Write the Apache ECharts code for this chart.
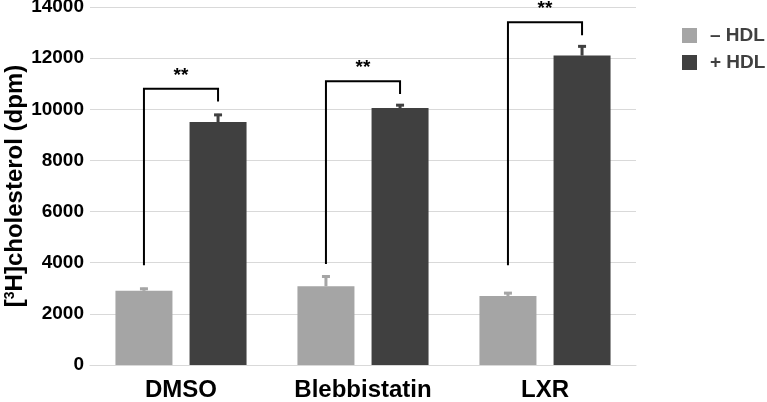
<!DOCTYPE html>
<html>
<head>
<meta charset="utf-8">
<script src="https://cdn.jsdelivr.net/npm/echarts@6/dist/echarts.min.js"></script>
<style>html,body{margin:0;padding:0;background:#fff}#c{width:767px;height:402px}</style>
</head>
<body>
<div id="c"></div>
<script>
const categories = ['DMSO', 'Blebbistatin', 'LXR'];
const seriesNames = ['\u2013 HDL', '+ HDL'];
const minusHDL = [2900, 3080, 2700];
const plusHDL = [9500, 10050, 12100];
const minusErrTop = [3020, 3500, 2850];
const plusErrTop = [9820, 10200, 12500];
const bracketLeft = [3900, 3950, 3900];
const bracketTop = [10800, 11100, 13400];
const bracketRight = [10300, 10600, 12900];
const sigLabels = ['**', '**', '**'];
const yTicks = { min: 0, max: 14000, interval: 2000 };

const FONT = 'Liberation Sans';
const COL_MINUS = '#a5a5a5';
const COL_PLUS = '#404040';
const BAR_W = 57;
const GAP = 0.3;
const OFF = (BAR_W + BAR_W * GAP) / 2;

const errData = [];
categories.forEach((c, i) => {
  errData.push([i, minusHDL[i], minusErrTop[i], -1]);
  errData.push([i, plusHDL[i], plusErrTop[i], 1]);
});
const bracketData = categories.map((c, i) => [i, bracketLeft[i], bracketTop[i], bracketRight[i]]);

const chart = echarts.init(document.getElementById('c'));
chart.setOption({
  animation: false,
  textStyle: { fontFamily: FONT },
  grid: { left: 90, right: 131, top: 7, bottom: 37, containLabel: false, outerBoundsMode: 'none' },
  legend: {
    orient: 'vertical', left: 677, top: 21, itemWidth: 15, itemHeight: 15, itemGap: 8,
    icon: 'rect',
    data: seriesNames,
    textStyle: { fontFamily: FONT, fontWeight: 'bold', fontSize: 19, color: '#404040', padding: [0, 0, 0, 8] }
  },
  xAxis: {
    type: 'category', data: categories,
    axisLine: { lineStyle: { color: '#d9d9d9', width: 1 } },
    axisTick: { show: false },
    axisLabel: { fontFamily: FONT, fontWeight: 'bold', fontSize: 24, color: '#000', margin: 13 }
  },
  yAxis: {
    type: 'value', min: yTicks.min, max: yTicks.max, interval: yTicks.interval,
    axisLine: { show: false }, axisTick: { show: false },
    splitLine: { lineStyle: { color: '#d9d9d9', width: 1 } },
    axisLabel: { fontFamily: FONT, fontWeight: 'bold', fontSize: 19, color: '#000', margin: 6, formatter: v => String(v) },
    name: '{b|[}{s|3}{b|H]cholesterol (dpm)}',
    nameLocation: 'middle', nameGap: 63, nameRotate: 90, nameMoveOverlap: false,
    nameTextStyle: {
      rich: {
        b: { fontFamily: FONT, fontWeight: 'bold', fontSize: 24, color: '#000' },
        s: { fontFamily: FONT, fontWeight: 'bold', fontSize: 14, color: '#000', verticalAlign: 'top', padding: [0, 0, 9, 0] }
      }
    }
  },
  series: [
    { name: seriesNames[0], type: 'bar', data: minusHDL, barWidth: BAR_W, barGap: GAP * 100 + '%', itemStyle: { color: COL_MINUS } },
    { name: seriesNames[1], type: 'bar', data: plusHDL, barWidth: BAR_W, barGap: GAP * 100 + '%', itemStyle: { color: COL_PLUS } },
    {
      type: 'custom', data: errData, z: 5, silent: true,
      renderItem(params, api) {
        const ci = api.value(0), side = api.value(3);
        const b = api.coord([ci, api.value(1)]);
        const t = api.coord([ci, api.value(2)]);
        const x = b[0] + side * OFF;
        const col = side < 0 ? COL_MINUS : COL_PLUS;
        return { type: 'group', children: [
          { type: 'line', shape: { x1: x, y1: b[1], x2: x, y2: t[1] }, style: { stroke: col, lineWidth: 3 } },
          { type: 'line', shape: { x1: x - 4, y1: t[1] + 1, x2: x + 4, y2: t[1] + 1 }, style: { stroke: col, lineWidth: 3 } }
        ]};
      }
    },
    {
      type: 'custom', data: bracketData, z: 6, silent: true,
      renderItem(params, api) {
        const ci = api.value(0);
        const l = api.coord([ci, api.value(1)]);
        const tp = api.coord([ci, api.value(2)]);
        const r = api.coord([ci, api.value(3)]);
        const xl = l[0] - OFF, xr = l[0] + OFF;
        return { type: 'group', children: [
          { type: 'polyline', shape: { points: [[xl, l[1]], [xl, tp[1]], [xr, tp[1]], [xr, r[1]]] },
            style: { stroke: '#000', lineWidth: 2, fill: null } },
          { type: 'text', x: (xl + xr) / 2, y: tp[1] - 4,
            style: { text: sigLabels[params.dataIndex], font: 'bold 19px "' + FONT + '"', fill: '#000', align: 'center', verticalAlign: 'bottom' } }
        ]};
      }
    }
  ]
});
</script>
</body>
</html>
